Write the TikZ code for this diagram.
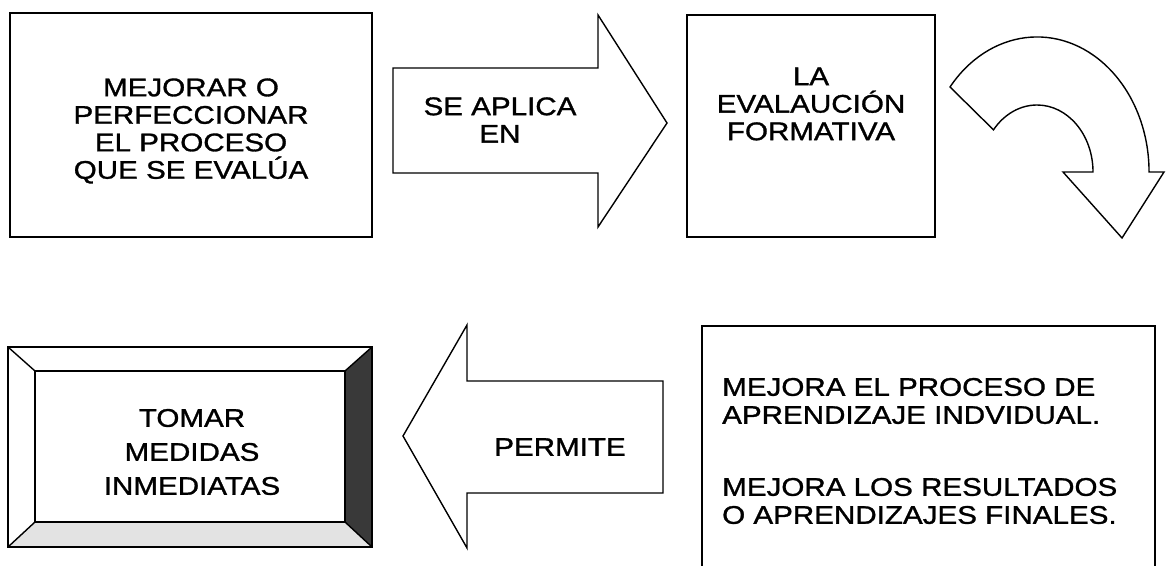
\documentclass[tikz,border=0pt]{standalone}
\usepackage{fontspec}
\setmainfont{Liberation Sans}[FakeStretch=1.16,FakeBold=1.2]
\begin{document}
\begin{tikzpicture}[x=1pt,y=1pt,
  outline/.style={draw=black, line width=1.4pt, line join=miter, fill=white},
  txt/.style={font=\fontsize{25.5}{27.5}\selectfont, align=center, inner sep=0pt},
  txtl/.style={font=\fontsize{25.5}{28}\selectfont, align=left, inner sep=0pt, anchor=west}]
\useasboundingbox (0,0) rectangle (1166,565);
\clip (0,0) rectangle (1166,565);
% top left box
\draw[outline] (10,552) rectangle (372,328);
\node[txt] (t1) at (191,434) {MEJORAR O\\PERFECCIONAR\\EL PROCESO\\QUE SE EVALÚA};
% right block arrow
\draw[outline] (393,497) -- (598,497) -- (598,550) -- (667,442) -- (598,338) -- (598,392) -- (393,392) -- cycle;
\node[txt] (t2) at (500,445) {SE APLICA\\EN};
% top middle box
\draw[outline] (687,550) rectangle (935,328);
\node[txt] (t3) at (811,461) {LA\\EVALAUCIÓN\\FORMATIVA};
% curved arrow
\draw[outline] (950,478) arc[start angle=141, end angle=0, x radius=112pt, y radius=135pt]
  -- (1164,393) -- (1122,327) -- (1063,393) -- (1093,393)
  arc[start angle=0, end angle=141, x radius=56pt, y radius=67pt] -- cycle;
% bevel box
\fill[white] (8,218) -- (372,218) -- (345,194) -- (35,194) -- cycle;
\fill[gray!45!black] (372,218) -- (372,18) -- (345,43) -- (345,194) -- cycle;
\fill[gray!22] (372,18) -- (8,18) -- (35,43) -- (345,43) -- cycle;
\draw[line width=1.4pt] (8,218) rectangle (372,18);
\draw[line width=1.4pt] (35,194) rectangle (345,43);
\draw[line width=1.4pt] (8,218) -- (35,194) (372,218) -- (345,194)
  (372,18) -- (345,43) (8,18) -- (35,43);
\node[txt, font=\fontsize{25.5}{34}\selectfont] (t4) at (192,113) {TOMAR\\MEDIDAS\\INMEDIATAS};
% left block arrow
\draw[outline] (403,129) -- (467,240) -- (467,184) -- (663,184) -- (663,72) -- (467,72) -- (467,17) -- cycle;
\node[txt] (t5) at (560,118) {PERMITE};
% bottom right box (open at the bottom edge)
\draw[line width=1.4pt] (702,-10) -- (702,239) -- (1155,239) -- (1155,-10);
\node[txtl] (t6) at (722,164) {MEJORA EL PROCESO DE\\APRENDIZAJE INDVIDUAL.};
\node[txtl] (t7) at (722,64) {MEJORA LOS RESULTADOS\\O APRENDIZAJES FINALES.};
\end{tikzpicture}
\end{document}
